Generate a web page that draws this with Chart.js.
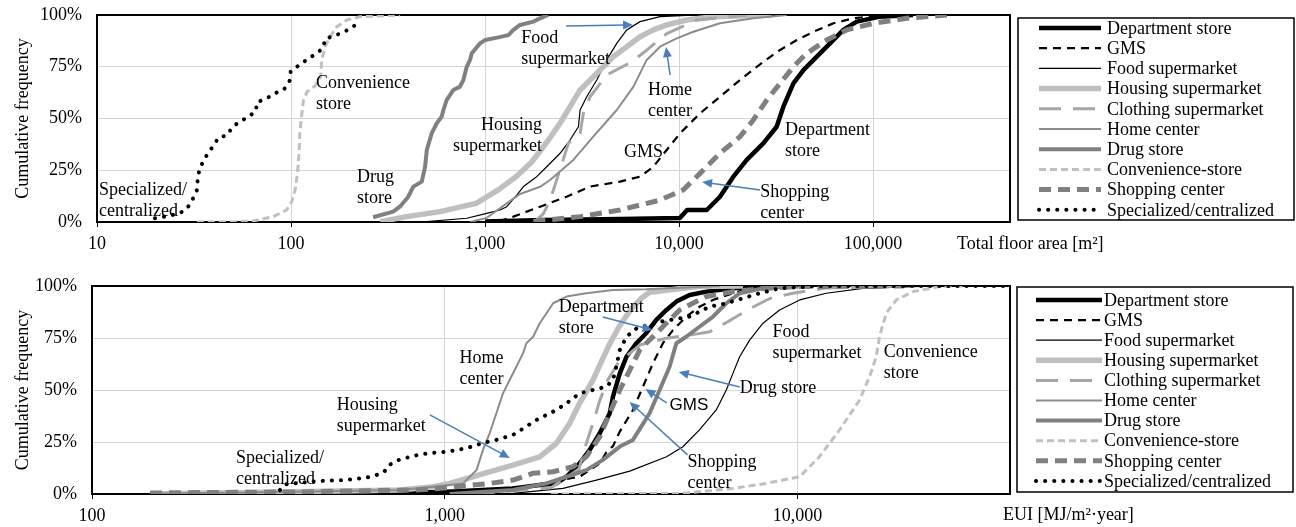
<!DOCTYPE html>
<html>
<head>
<meta charset="utf-8">
<script src="https://cdn.jsdelivr.net/npm/chart.js@4/dist/chart.umd.min.js"></script>
<style>
  body{margin:0;background:#fff;}
  canvas{display:block;}
</style>
</head>
<body>
<canvas id="topChart" width="1296" height="262"></canvas>
<canvas id="bottomChart" width="1296" height="265"></canvas>
<script>
// series names (legend order)
const seriesNames = ['Department store','GMS','Food supermarket','Housing supermarket','Clothing supermarket',
  'Home center','Drug store','Convenience-store','Shopping center','Specialized/centralized'];

const floorTicks = [10, 100, 1000, 10000, 100000];
const euiTicks = [100, 1000, 10000];
const yTicks = [0, 25, 50, 75, 100];

// total floor area [m2] vs cumulative frequency [%]
const floorDepartment = [[1000,0.2],[2000,1],[5000,1.5],[10100,1.9],[11000,5.8],[13900,5.8],[16250,12.2],[19050,21.9],[22330,30],[27180,38],[31840,46],[34500,55.7],[38850,67],[43750,73.4],[51290,79.9],[60000,86.3],[70300,92.8],[82400,96.8],[108700,99.2],[160700,100]];
const floorGMS = [[1000,0],[1194,0.5],[1400,2.6],[1922,7.4],[2630,12.2],[3478,17.1],[4960,19.5],[6293,21.9],[7375,26.7],[8635,34.8],[10120,42.8],[11400,47.7],[12830,52.5],[16250,60.5],[20610,68.6],[27180,77.4],[33190,83.1],[40470,87.9],[49320,91.9],[62530,96],[79260,98.4],[100400,99.5],[120000,100]];
const floorFood = [[500,0.2],[805,1.8],[1020,4.2],[1194,5.8],[1295,7.4],[1457,13],[1578,17.1],[1846,21.9],[2080,26.7],[2437,33.2],[2743,39.6],[3030,46],[3090,54.1],[3344,60.5],[3766,68.6],[4241,78.3],[4775,86.3],[5373,92.8],[6293,96.8],[7980,99.2],[12330,100]];
const floorHousing = [[288,0.2],[394,2.6],[586,5],[900,9],[1170,15.5],[1450,22],[1740,29],[2080,38.5],[2437,47.7],[2743,55.7],[3090,63.8],[3478,68.6],[3918,73.4],[4586,79.9],[5373,84.7],[6293,89.5],[7375,92.8],[8635,95.2],[10940,97.6],[15020,99.2],[30000,100]];
const floorClothing = [[1800,0],[2000,4],[2163,10.6],[2340,20.3],[2690,38],[3090,42.8],[3214,52.5],[3478,60.5],[4241,71],[5700,77.4],[6810,83],[8635,91],[12330,97.6],[22390,100]];
const floorHome = [[837,0],[1020,2],[1100,4.2],[1295,9],[1515,13.5],[1922,17],[2163,20.3],[2852,30],[3612,41.2],[4775,54.1],[5823,65.4],[6810,78.3],[7980,84.7],[9730,88.7],[11860,91.9],[16250,96],[24150,98.4],[35900,100]];
const floorDrug = [[265,2.3],[336,5],[364,7.4],[402,12.2],[427,17.1],[472,19.5],[491,26.7],[501,34.8],[531,42.8],[564,47.7],[598,50.9],[610,54.1],[634,58.9],[687,63.8],[743,65.4],[773,68.6],[805,75],[837,78.3],[854,81.5],[942,86.3],[1000,87.9],[1172,89.2],[1319,90.3],[1400,92.8],[1515,95.2],[1775,96.8],[1922,98.4],[2114,100]];
const floorConvenience = [[32.7,0],[50.4,0],[64,0.5],[81.1,2.6],[95,5.8],[100.8,9.8],[105,15.5],[108,23.5],[110,33.2],[111,42.8],[113,50.1],[116,58.9],[121,62.9],[133,65.7],[142,70.2],[144,78.3],[150,84.7],[159,89.5],[172,94.3],[194,97.6],[227,99.2],[365,100]];
const floorShopping = [[1775,0.2],[3090,2.6],[4960,5.8],[7980,10.6],[10510,15.5],[12830,23.5],[16250,33.2],[20610,41.2],[24150,49.3],[28310,58.9],[33190,67],[38850,75],[45500,81.5],[57700,87.9],[73100,92.8],[100400,96],[149000,98.4],[240000,100]];
const floorSpecialized = [[19.9,1.8],[22.4,2.6],[25.3,3.7],[28.2,5.3],[30.1,8.4],[31.6,12.2],[32.9,15.9],[33,20.8],[33.7,25.1],[35.3,29.5],[37.5,33.5],[39.9,36.9],[42.2,40.7],[46.8,41.9],[49.8,45.7],[53.9,48.3],[59.8,50.6],[66,53.6],[66.6,57.8],[74.6,59.6],[82.7,62.2],[92.1,64.1],[98.5,68.3],[99.6,72.9],[110,75.7],[120,78.3],[133,81],[146,83.9],[150,88.4],[167,90],[186,91.6],[206,94],[227,96.8]];

// EUI [MJ/m2 year] vs cumulative frequency [%]
const euiDepartment = [[655,0],[1011,1.1],[1560,2.7],[1858,4.3],[2072,5.1],[2213,8.3],[2410,14.7],[2575,21.2],[2749,29.2],[2934,38.8],[2997,46.8],[3133,58],[3273,66],[3493,72.5],[3722,77.3],[3977,83.7],[4250,88.5],[4532,92.5],[4943,95.7],[5511,97.3],[6557,98.9],[8150,99.7],[10000,100]];
const euiGMS = [[747,0],[1257,1.9],[1703,3.5],[2120,6.7],[2410,8.3],[2749,14.7],[2870,20],[2997,23],[3133,30],[3414,40.4],[3645,51.6],[3890,62.8],[4152,72.5],[4433,78.8],[4834,85.2],[5270,90],[5752,93.3],[6557,96.5],[7312,98.9],[8510,99.7],[10000,100]];
const euiFood = [[538,0],[1560,0.3],[2163,2.7],[2690,6.7],[3344,11],[4250,17.9],[4730,22.7],[5270,30.8],[5880,40.4],[6280,50],[6557,58],[6850,66],[7312,74],[7980,82.1],[8890,88.5],[10140,93.3],[12050,96.5],[15320,98.9],[21220,99.7],[26370,100]];
const euiHousing = [[150,0],[747,1.9],[927,3.5],[1032,5.1],[1203,8.3],[1300,10],[1560,13.9],[1858,17.9],[2072,24.4],[2260,34],[2410,43.6],[2630,54.8],[2749,62],[2930,72],[3133,81],[3344,88],[3600,94],[3806,97],[4730,98.9],[5270,99.7],[7000,100]];
const euiClothing = [[1200,0],[2000,3],[2400,12],[2519,24.4],[2630,34],[2750,45],[2900,55],[3100,63],[3567,71.6],[4250,74.9],[5000,76.5],[5635,78],[6340,82.8],[7300,89],[8340,94],[9700,96.5],[12000,99],[20000,100]];
const euiHome = [[146,0.3],[251,0.6],[747,1.9],[927,3.5],[1128,5.1],[1230,11.5],[1283,21.2],[1340,29.2],[1400,38.8],[1462,48.4],[1527,54.8],[1595,61.2],[1666,67.6],[1703,72.5],[1780,75.6],[1858,82.1],[1942,86.9],[2028,91.7],[2213,94.9],[2519,96.5],[2997,98.1],[3722,98.4],[6010,100]];
const euiDrug = [[1032,0],[1560,1.9],[1942,5.1],[2213,8.3],[2519,11.5],[2800,16.3],[3133,22.8],[3414,26],[3806,38.8],[4064,50],[4337,61.2],[4532,72.5],[4834,75.6],[5270,80.4],[5752,85.2],[6280,91.7],[6850,96.5],[8000,99],[10000,100]];
const euiConvenience = [[2000,0],[4730,0.3],[6557,2.7],[8150,5.1],[10140,8.3],[11530,17.9],[13150,30.8],[14990,45.2],[16000,56.4],[16700,66],[17060,75.6],[17830,86.9],[19050,93.3],[21220,97.3],[25240,99.7],[30000,100]];
const euiShopping = [[146,0.5],[388,1],[849,2],[1011,3],[1340,5.1],[1560,6.7],[1780,10],[2028,10.7],[2307,13.1],[2519,17.9],[2749,27.5],[2934,38.8],[3133,50],[3344,59.6],[3567,69.2],[3806,74],[4064,78.8],[4337,83.7],[4632,88.5],[5047,91.7],[5511,94.9],[6557,97.3],[8150,98.9],[10140,99.7],[20000,100]];
const euiSpecialized = [[341,1.9],[352,4.6],[376,5.1],[401,5.6],[433,6.2],[521,6.7],[593,7.7],[633,8.8],[673,10.6],[695,13.9],[738,16.3],[787,17.6],[840,18.8],[897,19.6],[1011,20.3],[1083,21.2],[1152,22],[1230,23.6],[1312,24.9],[1400,26],[1560,28.4],[1702,32.4],[1818,35.6],[1942,38],[2072,40.4],[2213,43.6],[2410,48.4],[2630,50],[2870,51.6],[2997,54.8],[3062,61.2],[3133,69.2],[3273,75.6],[3493,79.6],[4064,82.8],[4943,85.3],[5635,90.1],[6287,91.7],[7003,94.1],[7803,96.5],[8884,98.9],[11530,100],[40000,100]];

const floorSeries = [floorDepartment,floorGMS,floorFood,floorHousing,floorClothing,floorHome,floorDrug,floorConvenience,floorShopping,floorSpecialized];
const euiSeries = [euiDepartment,euiGMS,euiFood,euiHousing,euiClothing,euiHome,euiDrug,euiConvenience,euiShopping,euiSpecialized];

// line looks, same order as seriesNames
const looks = [
  {c:'#000000', w:4.5, d:[]},
  {c:'#000000', w:2.2, d:[8,6]},
  {c:'#000000', w:1.2, d:[]},
  {c:'#bfbfbf', w:5.5, d:[]},
  {c:'#a6a6a6', w:3, d:[22,12]},
  {c:'#8c8c8c', w:2, d:[]},
  {c:'#808080', w:4, d:[]},
  {c:'#c0c0c0', w:3, d:[7,4]},
  {c:'#808080', w:5, d:[12,7]},
  {c:'#000000', w:4, d:[0.1,9], cap:'round'}
];

const serif = 'Liberation Serif, Times New Roman, serif';
const sans = 'Liberation Sans, Arial, sans-serif';
const blue = '#4a7ebb';

function q(id){return document.getElementById(id)}

function makeDatasets(series){
  return series.map((pts,i)=>({
    label: seriesNames[i],
    data: pts.map(p=>({x:p[0], y:p[1]})),
    borderColor: looks[i].c,
    backgroundColor: looks[i].c,
    borderWidth: looks[i].w,
    borderDash: looks[i].d,
    borderCapStyle: looks[i].cap || 'butt',
    borderJoinStyle: 'round',
    pointRadius: 0,
    fill: false,
    tension: 0,
    order: 10 - i
  }));
}

// frame, notes with arrows, legend box and axis title
const panelDecor = {
  id: 'panelDecor',
  beforeDatasetsDraw(chart){
    const a = chart.chartArea, ctx = chart.ctx;
    ctx.save();
    ctx.strokeStyle = '#000'; ctx.lineWidth = 2;
    ctx.strokeRect(a.left, a.top, a.right-a.left, a.bottom-a.top);
    ctx.restore();
  },
  afterDatasetsDraw(chart, args, opts){
    const ctx = chart.ctx, xs = chart.scales.x, ys = chart.scales.y;
    ctx.save();
    (opts.arrows||[]).forEach(ar=>{
      const x1 = xs.getPixelForValue(ar.from[0]), y1 = ys.getPixelForValue(ar.from[1]);
      const x2 = xs.getPixelForValue(ar.to[0]), y2 = ys.getPixelForValue(ar.to[1]);
      const ang = Math.atan2(y2-y1, x2-x1);
      ctx.strokeStyle = blue; ctx.fillStyle = blue; ctx.lineWidth = 1.5;
      ctx.beginPath(); ctx.moveTo(x1,y1);
      ctx.lineTo(x2-7*Math.cos(ang), y2-7*Math.sin(ang)); ctx.stroke();
      ctx.beginPath();
      ctx.moveTo(x2,y2);
      ctx.lineTo(x2-10*Math.cos(ang)+4.5*Math.sin(ang), y2-10*Math.sin(ang)-4.5*Math.cos(ang));
      ctx.lineTo(x2-10*Math.cos(ang)-4.5*Math.sin(ang), y2-10*Math.sin(ang)+4.5*Math.cos(ang));
      ctx.closePath(); ctx.fill();
    });
    (opts.notes||[]).forEach(n=>{
      const x = xs.getPixelForValue(n.x), y = ys.getPixelForValue(n.y);
      ctx.fillStyle = '#000';
      ctx.font = (n.sans ? '17px ' + sans : '18px ' + serif);
      ctx.textAlign = n.align || 'left';
      ctx.textBaseline = 'alphabetic';
      n.lines.forEach((t,k)=>ctx.fillText(t, x, y + k*21));
    });
    ctx.restore();
  },
  afterDraw(chart, args, opts){
    const ctx = chart.ctx, L = opts.legend;
    ctx.save();
    ctx.strokeStyle = '#000'; ctx.lineWidth = 1.5;
    ctx.strokeRect(L.x, L.y, L.w, L.h);
    ctx.font = '18px ' + serif;
    ctx.textBaseline = 'middle'; ctx.textAlign = 'left';
    chart.data.datasets.forEach((ds,i)=>{
      const y = L.row0 + i*L.gap;
      ctx.save();
      ctx.strokeStyle = ds.borderColor; ctx.lineWidth = ds.borderWidth;
      ctx.setLineDash(ds.borderDash); ctx.lineCap = ds.borderCapStyle;
      ctx.beginPath(); ctx.moveTo(L.x1, y); ctx.lineTo(L.x2, y); ctx.stroke();
      ctx.restore();
      ctx.fillStyle = '#000';
      ctx.fillText(ds.label, L.tx, y+1);
    });
    const T = opts.xTitle;
    ctx.textBaseline = 'alphabetic';
    ctx.fillText(T.text, T.x, T.y);
    ctx.restore();
  }
};

function makeChart(id, series, xMin, xMax, ticks, yWidth, xHeight, padTop, decor){
  return new Chart(q(id), {
    type: 'line',
    data: { datasets: makeDatasets(series) },
    options: {
      responsive: false, animation: false, devicePixelRatio: 1,
      layout: { padding: { top: padTop, right: 286, left: 0, bottom: 0 } },
      plugins: { legend: {display:false}, tooltip: {enabled:false}, panelDecor: decor },
      scales: {
        x: {
          type: 'logarithmic', min: xMin, max: xMax,
          afterBuildTicks: s => { s.ticks = ticks.map(v=>({value:v})); },
          afterFit: s => { s.height = xHeight; s.paddingLeft = 0; s.paddingRight = 0; },
          ticks: { autoSkip:false, maxRotation:0, padding: 6, color:'#000', font:{family:serif, size:18},
                   callback: v => Number(v).toLocaleString('en-US') },
          grid: { color:'#d4d4d4', tickColor:'#000', tickLength:5, lineWidth:1 },
          border: { display:false }
        },
        y: {
          min: 0, max: 100,
          afterBuildTicks: s => { s.ticks = yTicks.map(v=>({value:v})); },
          afterFit: s => { s.width = yWidth; s.paddingTop = 0; s.paddingBottom = 0; },
          ticks: { padding: 15, color:'#000', font:{family:serif, size:18}, callback: v => v + '%' },
          grid: { color:'#d4d4d4', drawTicks:false },
          border: { display:false },
          title: { display:true, text:'Cumulative frequency', color:'#000', font:{family:serif, size:18}, padding:{top:12, bottom:0} }
        }
      }
    },
    plugins: [panelDecor]
  });
}

makeChart('topChart', floorSeries, 10, 508000, floorTicks, 97, 40, 15, {
  legend: {x:1018, y:18, w:276, h:202, row0:28, gap:20.2, x1:1039, x2:1101, tx:1107},
  xTitle: {text:'Total floor area [m²]', x:957, y:249},
  notes: [
    {lines:['Convenience','store'], x:134.6, y:64.7},
    {lines:['Drug','store'], x:219, y:19.3},
    {lines:['Specialized/','centralized'], x:10.24, y:13},
    {lines:['Housing','supermarket'], x:1968, y:44.4, align:'right'},
    {lines:['Food','supermarket'], x:1535, y:86.5},
    {lines:['Home','center'], x:6918, y:61.4},
    {lines:['GMS'], x:5200, y:31.4},
    {lines:['Department','store'], x:35160, y:42},
    {lines:['Shopping','center'], x:26180, y:12.1}
  ],
  arrows: [
    {from:[2618,94.7], to:[5794,95.2]},
    {from:[8995,71], to:[8570,84.5]},
    {from:[26180,15.5], to:[13150,19.3]}
  ]
});

makeChart('bottomChart', euiSeries, 100, 40000, euiTicks, 92, 33, 24, {
  legend: {x:1017, y:25, w:276, h:205, row0:38, gap:20.1, x1:1036, x2:1102, tx:1104},
  xTitle: {text:'EUI [MJ/m²·year]', x:1003, y:258},
  notes: [
    {lines:['Specialized/','centralized'], x:256, y:14.9},
    {lines:['Housing','supermarket'], x:494, y:40.4},
    {lines:['Home','center'], x:1101, y:63},
    {lines:['Department','store'], x:2104, y:87.5},
    {lines:['Food','supermarket'], x:8492, y:75.5},
    {lines:['Convenience','store'], x:17540, y:65.9},
    {lines:['Drug store'], x:6855, y:48.6},
    {lines:['GMS'], x:4337, y:40.4, sans:true},
    {lines:['Shopping','center'], x:4876, y:13}
  ],
  arrows: [
    {from:[907,38], to:[1528,17.3]},
    {from:[2805,85.1], to:[3882,78.8]},
    {from:[6855,51.4], to:[4603,58.7]},
    {from:[4256,43.8], to:[3706,50.5]},
    {from:[4876,18.8], to:[3342,44.2]}
  ]
});
</script>
</body>
</html>
